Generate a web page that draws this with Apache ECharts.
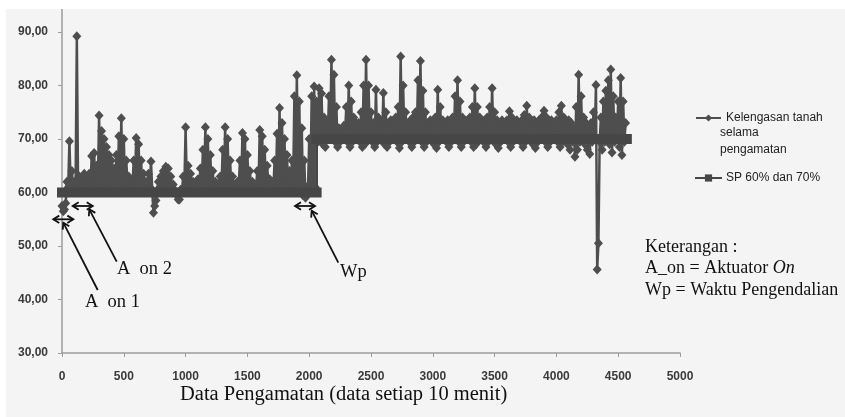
<!DOCTYPE html>
<html>
<head>
<meta charset="utf-8">
<script src="https://cdn.jsdelivr.net/npm/echarts@6/dist/echarts.min.js"></script>
<style>
html, body { margin: 0; padding: 0; background: #fff; }
#chart { width: 845px; height: 417px; }
</style>
</head>
<body>
<div id="chart"></div>
<script>
// soil moisture. The readings swing up and down every
// sample, so the picture is read as an upper reading (x = 0, 20, 40 ... 4560)
// and a lower reading in between (x = 10, 30, 50 ... 4550).
var sampleStep = 20;
var upperReadings = [
  57.5, 56.8, 62, 69.6, 64, 62, 89.2, 63, 62.5, 63.5,        // 0
  62.5, 63.5, 66.8, 67.4, 65, 74.4, 71.5, 70, 68.5, 67,      // 200
  66, 64.5, 67, 70.5, 73.9, 70, 66, 63, 62, 66,              // 400
  70.2, 69, 66, 63.5, 62, 63.5, 65.8, 56.2, 58.5, 62,        // 600
  63, 64, 64.8, 64.5, 63, 61.5, 60, 58.7, 60.5, 63,          // 800
  72.2, 65, 63.5, 62, 61.5, 62.5, 64.5, 68, 72.2, 70,        // 1000
  67, 64, 62, 61.5, 63, 68, 72.2, 70, 66, 63,                // 1200
  61.5, 62, 66, 71.1, 70, 67, 64, 62, 61.5, 64,              // 1400
  71.7, 70.5, 68, 65, 62.5, 62, 66, 71, 75.8, 73,            // 1600
  70, 67, 64, 66, 78, 81.9, 77, 72, 66, 61,                  // 1800
  70, 78, 79.8, 77, 79.5, 78.5, 74, 73, 78, 84.8,            // 2000
  82, 76, 72, 71.5, 72.5, 76, 80, 77, 74, 73,                // 2200
  73, 75, 80, 84.8, 80, 75, 73, 79.2, 74, 73,                // 2400
  78.6, 75, 73, 73.5, 73, 74, 76, 85.4, 80, 75,              // 2600
  73, 73.5, 74, 75, 81, 84.6, 79, 75, 73, 73.5,              // 2800
  73, 74, 79.2, 76, 73.5, 73, 73.5, 73, 74, 78,              // 3000
  81, 77, 74, 73, 73.5, 74, 76, 79.5, 76, 74,                // 3200
  73, 73.5, 74, 76, 79.5, 75, 73.5, 73, 73.5, 73,            // 3400
  73.5, 75.2, 74, 73, 73.5, 73, 73.5, 74.5, 76.2, 74,        // 3600
  73, 73.5, 73, 73.5, 74, 75.3, 74, 73, 73.5, 73,            // 3800
  73.5, 75, 76.2, 74, 73, 73.5, 73, 72, 76, 82,              // 4000
  78, 74, 73, 72, 73, 75, 80.1, 50.5, 74, 77,                // 4200
  79, 81, 83, 78, 74, 77, 81.4, 77, 73                       // 4400
];
var lowerReadings = [
  56.5, 58, 61, 61.5, 61, 61.5, 61, 60.5, 61, 61.5,          // 10
  61, 60.5, 61.5, 61, 61.5, 61, 60.5, 61, 61.5, 61,          // 210
  60.5, 61, 61.5, 61, 60.5, 61, 61.5, 60.5, 61, 61,          // 410
  61.5, 61, 60.5, 61, 61.5, 61, 60.5, 57.5, 60, 61,          // 610
  61, 60.5, 61, 61.5, 61, 60.5, 59.5, 58.7, 60, 61,          // 810
  61, 61.5, 61, 60.5, 61, 61.5, 61, 60.5, 61, 61.5,          // 1010
  61, 60.5, 61, 61.5, 61, 60.5, 61, 61.5, 61, 60.5,          // 1210
  61, 61.5, 61, 60.5, 61, 61.5, 61, 60.5, 61, 61.5,          // 1410
  61, 60.5, 61, 61.5, 61, 60.5, 61, 61.5, 61, 62,            // 1610
  61.5, 61, 60.5, 61, 62, 61.5, 60.5, 59.5, 59, 60.5,        // 1810
  61.5, 62, 61, 69.5, 70.5, 69, 68.5, 70, 71, 70,            // 2010
  69.5, 68.5, 69.5, 70.5, 71, 69.5, 68.5, 69.5, 70.5, 71,    // 2210
  69.5, 68.5, 69, 70.5, 71, 69.5, 68.5, 69.5, 70.5, 70,      // 2410
  69, 68.5, 69.5, 70.5, 71, 69.5, 68.3, 69.5, 70.5, 71,      // 2610
  69.5, 68.5, 69.5, 70.5, 71, 69.5, 68.5, 69.5, 70.5, 70,    // 2810
  69, 68.3, 69.5, 70.5, 71, 69.5, 68.5, 69.5, 70.5, 71,      // 3010
  69.5, 68.5, 69.5, 70.5, 71, 69.5, 68.5, 69, 70.5, 71,      // 3210
  69.5, 68.5, 69.5, 70.5, 70, 69, 68.3, 69.5, 70.5, 71,      // 3410
  69.5, 68.5, 69.5, 70.5, 71, 69.5, 68.5, 69.5, 70.5, 70,    // 3610
  69, 68.3, 69.5, 70.5, 71, 69.5, 68.5, 69.5, 70.5, 71,      // 3810
  69.5, 68.5, 69.5, 70.5, 69, 68, 69.5, 66.7, 68, 69.5,      // 4010
  70.5, 69, 68, 67.2, 69.5, 70, 45.6, 69.5, 68, 69.5,        // 4210
  70.5, 69, 67.5, 69.5, 70.5, 68.5, 67, 69.5                 // 4410
];

// set point: 60 % until the switch, then 70 %
var spX = [0, 2060, 2060, 4570];
var spY = [60, 60, 70, 70];

// the picture is cut just above 90, so the axis runs a little past it
var yMin = 30, yMax = 94.3;
var yTicks = [30, 40, 50, 60, 70, 80, 90];
var xMin = 0, xMax = 5000, xStep = 500;

var mainName = 'Kelengasan tanah selama pengamatan';
var spName = 'SP 60% dan 70%';
var dark = '#4e4e4e';
var spColor = '#464646';

var mainData = [];
upperReadings.forEach(function (v, i) {
  mainData.push([i * sampleStep, v]);
  if (i < lowerReadings.length) mainData.push([i * sampleStep + sampleStep / 2, lowerReadings[i]]);
});
var spData = [[spX[0], spY[0]], [spX[1], spY[1]], [spX[1], '-'], [spX[2], spY[2]], [spX[3], spY[3]]];

function head(tx, ty, fx, fy) {
  var dx = tx - fx, dy = ty - fy, l = Math.sqrt(dx * dx + dy * dy);
  dx /= l; dy /= l;
  var len = 7, a = 0.55;
  var c = Math.cos(a), s = Math.sin(a);
  var p1 = [tx - len * (dx * c - dy * s), ty - len * (dy * c + dx * s)];
  var p2 = [tx - len * (dx * c + dy * s), ty - len * (dy * c - dx * s)];
  return { type: 'polyline', z: 50, shape: { points: [p1, [tx, ty], p2] }, style: { stroke: '#111', lineWidth: 1.8, fill: null } };
}
function seg(x1, y1, x2, y2) {
  return { type: 'line', z: 50, shape: { x1: x1, y1: y1, x2: x2, y2: y2 }, style: { stroke: '#111', lineWidth: 1.8 } };
}
function arrow(x1, y1, x2, y2) { return [seg(x1, y1, x2, y2), head(x2, y2, x1, y1)]; }
function dbl(x1, x2, y) { return [seg(x1, y, x2, y), head(x1, y, x2, y), head(x2, y, x1, y)]; }
function txt(x, y, t, size, rich) {
  var st = { text: t, fill: '#111', font: size + 'px "Liberation Serif"', verticalAlign: 'middle' };
  if (rich) st.rich = rich;
  return { type: 'text', z: 50, x: x, y: y, style: st };
}

var serif18 = { fontSize: 18, fontFamily: 'Liberation Serif', fill: '#111', color: '#111' };
var legendFont = '12px "Liberation Sans"';
var graphics = [
  { type: 'rect', z: 100, shape: { x: 0, y: 0, width: 845, height: 9 }, style: { fill: '#fff' } },
  { type: 'rect', z: 100, shape: { x: 0, y: 0, width: 6, height: 417 }, style: { fill: '#fff' } },
  { type: 'text', z: 50, x: 720, y: 133, style: { text: 'selama', fill: '#222', font: legendFont, verticalAlign: 'middle' } },
  { type: 'text', z: 50, x: 720, y: 149.5, style: { text: 'pengamatan', fill: '#222', font: legendFont, verticalAlign: 'middle' } },
  txt(85, 302, 'A  on 1', 18.5),
  txt(117, 269, 'A  on 2', 18.5),
  txt(340, 272, 'Wp', 18.5),
  txt(645, 247, 'Keterangan :', 18),
  txt(645, 268, '{a|A_on = Aktuator }{b|On}', 18, { a: serif18, b: Object.assign({}, serif18, { fontStyle: 'italic' }) }),
  txt(645, 290, 'Wp = Waktu Pengendalian', 18),
  txt(180, 395, 'Data Pengamatan (data setiap 10 menit)', 20.5)
].concat(
  arrow(97.7, 290, 63.3, 222.7),
  dbl(53.3, 73.3, 219.3),
  arrow(116.7, 261.7, 89.3, 209.3),
  dbl(72.7, 92.7, 206),
  arrow(338.3, 262.7, 311.7, 210.7),
  dbl(295, 315, 206)
);

var axisFont = { fontSize: 12, color: '#3a3a3a', fontWeight: 'bold', fontFamily: 'Liberation Sans' };

var chart = echarts.init(document.getElementById('chart'));
chart.setOption({
  animation: false,
  backgroundColor: '#f4f4f4',
  grid: { left: 62, right: 165, top: 9, bottom: 64 },
  legend: {
    orient: 'vertical', left: 690, top: 107,
    itemWidth: 25, itemHeight: 9, itemGap: 48,
    selectedMode: false,
    textStyle: { fontSize: 12, color: '#222', fontFamily: 'Liberation Sans' },
    lineStyle: { width: 2 },
    data: [mainName, spName],
    formatter: function (n) { return n === mainName ? 'Kelengasan tanah' : n; }
  },
  xAxis: {
    type: 'value', min: xMin, max: xMax, interval: xStep,
    axisLine: { lineStyle: { color: '#9c9c9c', width: 1.5 } },
    axisTick: { show: true, length: 4, lineStyle: { color: '#9c9c9c' } },
    axisLabel: Object.assign({ margin: 18, formatter: function (v) { return String(v); } }, axisFont),
    splitLine: { show: false }
  },
  yAxis: {
    type: 'value', min: yMin, max: yMax,
    axisLine: { show: true, lineStyle: { color: '#9c9c9c', width: 1.5 } },
    axisTick: { show: true, length: 4, customValues: yTicks, lineStyle: { color: '#9c9c9c' } },
    axisLabel: Object.assign({ margin: 14, customValues: yTicks, formatter: function (v) { return v.toFixed(2).replace('.', ','); } }, axisFont),
    splitLine: { show: false }
  },
  series: [
    {
      name: mainName, type: 'line', data: mainData,
      symbol: 'diamond', symbolSize: [9, 10],
      lineStyle: { color: dark, width: 2.5 },
      itemStyle: { color: dark },
      z: 2
    },
    {
      name: spName, type: 'line', data: spData,
      symbol: 'rect', symbolSize: 8, showSymbol: false,
      lineStyle: { color: spColor, width: 10, cap: 'square' },
      itemStyle: { color: spColor },
      z: 3,
      markLine: {
        silent: true, symbol: ['none', 'none'], label: { show: false },
        lineStyle: { color: spColor, width: 2, type: 'solid' },
        data: [[{ coord: [spX[1], spY[1]] }, { coord: [spX[2], spY[2]] }]]
      }
    }
  ],
  graphic: graphics
});
</script>
</body>
</html>
